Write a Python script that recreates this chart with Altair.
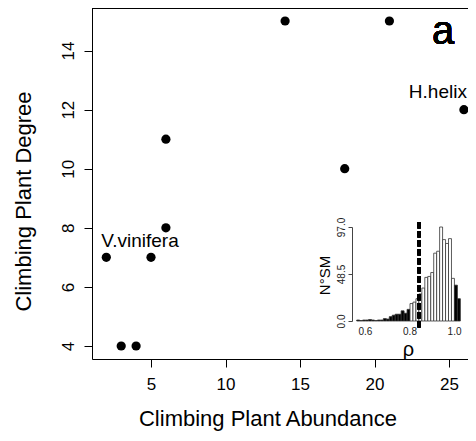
import altair as alt
import pandas as pd

# main scatter data
abundance = [2, 3, 4, 5, 6, 6, 14, 18, 21, 26]
degree = [7, 4, 4, 7, 8, 11, 15, 10, 15, 12]

label_names = ["V.vinifera", "H.helix"]
label_x = [2, 26]
label_y = [7, 12]
label_align = ["left", "right"]

# inset histogram (rho of null models)
bin_start = [0.595, 0.6065, 0.618, 0.6295, 0.641, 0.6525, 0.664, 0.6755, 0.687,
             0.6985, 0.71, 0.7215, 0.733, 0.7445, 0.756, 0.7675, 0.779, 0.7905,
             0.802, 0.8135, 0.825, 0.8365, 0.848, 0.8595, 0.871, 0.8825, 0.894,
             0.9055, 0.917, 0.9285, 0.94, 0.9515, 0.963, 0.9745, 0.986]
bin_count = [1, 0.5, 1, 1, 1.5, 1, 0.5, 1, 1, 2.5, 2, 4.5, 6, 7, 7, 10.5, 8, 12,
             18, 19.5, 23, 28, 34, 45, 46, 50, 70, 72, 97, 84, 80, 85, 44, 37, 23]
bin_tail = [True] * 18 + [False] * 15 + [True] * 2
bin_width = 0.0115
observed_rho = 0.837

W, H = 376, 351
FONT = "Liberation Sans"

pts = pd.DataFrame({"x": abundance, "y": degree})
labs = pd.DataFrame({"x": label_x, "y": label_y, "name": label_names, "align": label_align})
hist = pd.DataFrame({
    "start": bin_start,
    "end": [s + bin_width for s in bin_start],
    "count": bin_count,
    "tail": ["tail" if t else "body" for t in bin_tail],
})

xs = alt.Scale(domain=[1.04, 1.04 + W / 14.9], nice=False, zero=False)
ys = alt.Scale(domain=[3.56, 15.44], nice=False, zero=False)

xaxis = alt.Axis(values=[5, 10, 15, 20, 25], title="Climbing Plant Abundance",
                 orient="bottom", offset=0,
                 grid=False, tickSize=8, labelFontSize=17, titleFontSize=22,
                 labelPadding=9, titleFontWeight="normal", titleX=175.5, titleY=66,
                 titleBaseline="alphabetic", domainColor="black", tickColor="black",
                 labelColor="black", titleColor="black", labelFont=FONT, titleFont=FONT)
yaxis = alt.Axis(values=[4, 6, 8, 10, 12, 14], title="Climbing Plant Degree",
                 orient="left", offset=0,
                 grid=False, tickSize=8, labelFontSize=17, titleFontSize=22,
                 labelAngle=-90, labelAlign="center", labelBaseline="bottom",
                 labelPadding=7, titleFontWeight="normal", titleX=-62, titleY=193,
                 titleBaseline="alphabetic", titleAlign="center", domainColor="black",
                 tickColor="black", labelColor="black", titleColor="black",
                 labelFont=FONT, titleFont=FONT)

points = alt.Chart(pts).mark_circle(size=85, color="black", opacity=1).encode(
    x=alt.X("x:Q", scale=xs, axis=xaxis),
    y=alt.Y("y:Q", scale=ys, axis=yaxis),
)

lab_left = alt.Chart(labs[labs["align"] == "left"]).mark_text(
    align="left", baseline="alphabetic", dx=-5, dy=-10, fontSize=19, font=FONT, color="black"
).encode(x=alt.X("x:Q", scale=xs), y=alt.Y("y:Q", scale=ys), text="name:N")

lab_right = alt.Chart(labs[labs["align"] == "right"]).mark_text(
    align="right", baseline="alphabetic", dx=3, dy=-12, fontSize=19, font=FONT, color="black"
).encode(x=alt.X("x:Q", scale=xs), y=alt.Y("y:Q", scale=ys), text="name:N")

frame_top = alt.Chart(pts).mark_rule(color="black", strokeWidth=1).encode(
    x=alt.X(datum=1.04, scale=xs), x2=alt.X2(datum=27.5), y=alt.Y(datum=15.44, scale=ys)
)

letter = alt.Chart(pts).mark_text(
    text="a", fontSize=40, font=FONT, align="center", baseline="alphabetic", color="black"
).encode(x=alt.value(351), y=alt.value(36))

main = alt.layer(points, lab_left, lab_right, frame_top, letter)

ixs = alt.Scale(domain=[0.6, 1.0], range=[358 - 92, 461 - 92], nice=False, zero=False)
iys = alt.Scale(domain=[0, 97], range=[321 - 8, 227 - 8], nice=False, zero=True)

ixaxis = alt.Axis(values=[0.6, 0.8, 1.0], format=".1f", orient="top", offset=-313,
                  domain=False, ticks=False, grid=False, labelFontSize=10,
                  labelBaseline="top", labelPadding=-5,
                  title="ρ", titleFontSize=20, titleFontWeight="normal",
                  titleX=316, titleY=34, titleBaseline="alphabetic", titleAlign="center",
                  labelColor="#222", titleColor="black", labelFont=FONT, titleFont=FONT)
iyaxis = alt.Axis(values=[0, 48.5, 97], format=".1f", orient="left", offset=-(352 - 92),
                  grid=False, tickSize=4, labelFontSize=10, labelAngle=-90,
                  labelAlign="center", labelBaseline="bottom", labelPadding=2,
                  domainColor="#444", tickColor="#444",
                  title="N°SM", titleFontSize=15, titleFontWeight="normal",
                  titleX=-23, titleY=267, titleAlign="center", titleBaseline="alphabetic",
                  labelColor="#222", titleColor="black", labelFont=FONT, titleFont=FONT)

bars = alt.Chart(hist).mark_rect(strokeWidth=0.8, stroke="#333").encode(
    x=alt.X("start:Q", scale=ixs, axis=ixaxis),
    x2="end:Q",
    y=alt.Y("count:Q", scale=iys, axis=iyaxis),
    y2=alt.Y2(datum=0),
    fill=alt.Fill("tail:N", scale=alt.Scale(domain=["tail", "body"], range=["black", "white"]),
                  legend=None),
)

dash = alt.Chart(hist).mark_rule(color="black", strokeWidth=2.5, strokeDash=[6, 3]).encode(
    x=alt.X(datum=observed_rho, scale=ixs),
    y=alt.Y(datum=102, scale=iys),
    y2=alt.Y2(datum=-9),
)

inset = alt.layer(bars, dash)

chart = alt.layer(main, inset).resolve_scale(x="independent", y="independent").properties(
    width=W, height=H,
    autosize=alt.AutoSizeParams(type="none"),
    padding={"left": 84, "top": 0, "right": 0, "bottom": 74},
).configure_view(stroke=None).configure(background="white")

chart.save("out.html", embed_options={"renderer": "svg", "actions": False})
